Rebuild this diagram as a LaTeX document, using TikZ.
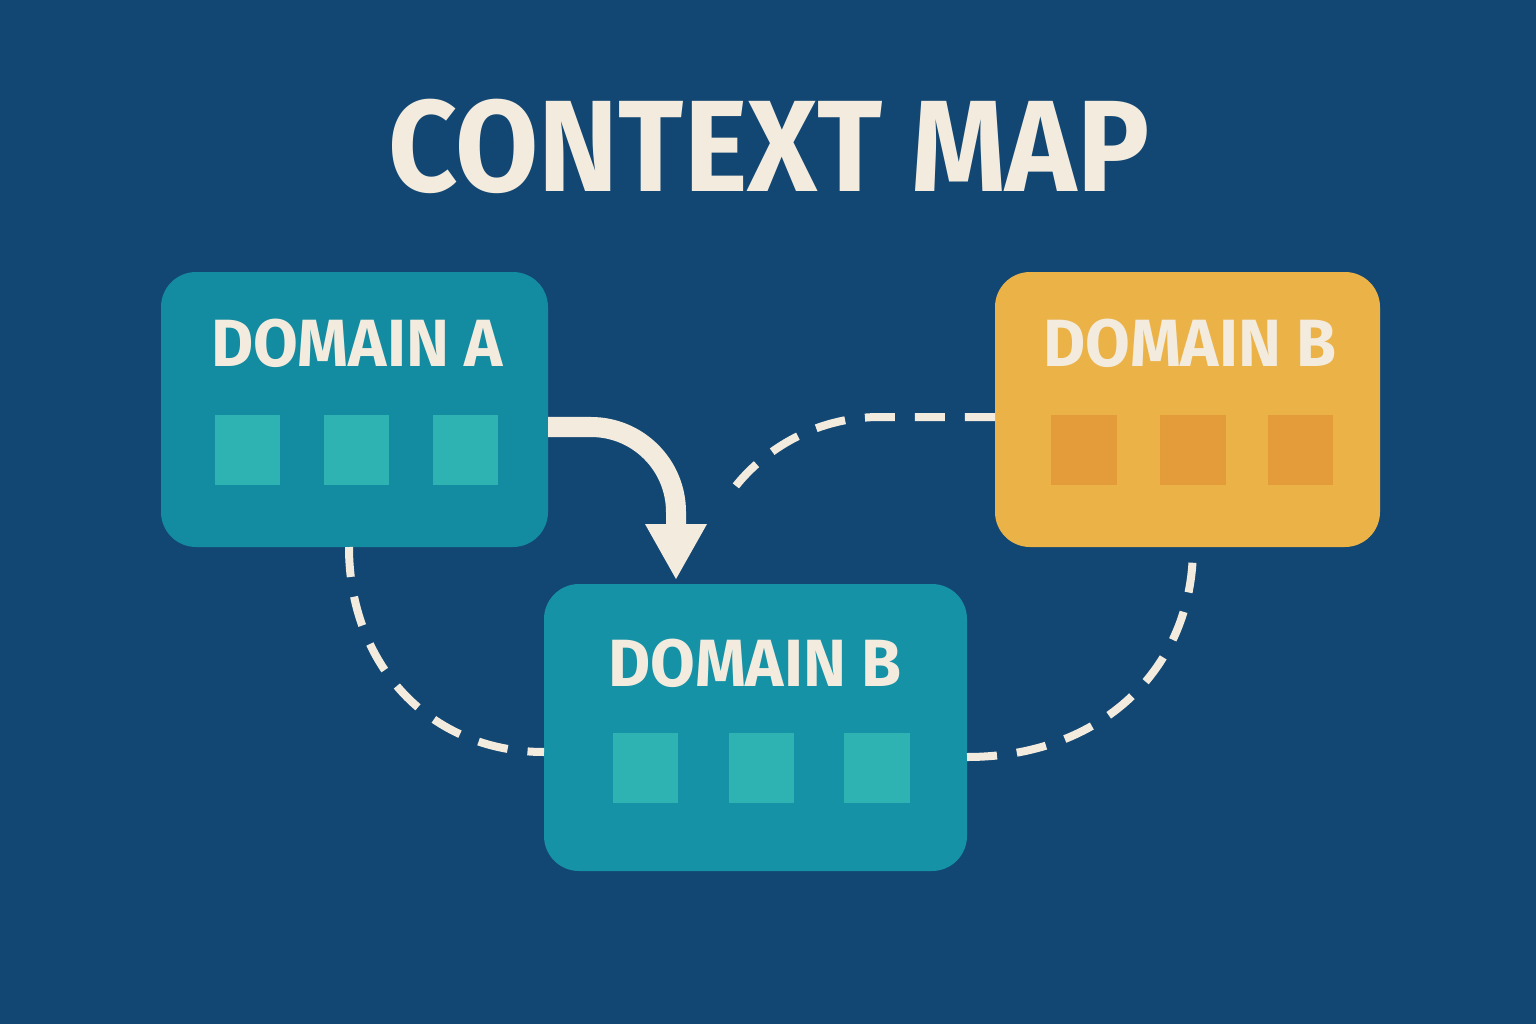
\documentclass[tikz,border=0pt]{standalone}
\usepackage{fontspec}
\setmainfont{Fira Sans}
\usetikzlibrary{arrows.meta}
\definecolor{bgblue}{RGB}{19,71,115}
\definecolor{tealbox}{RGB}{19,139,160}
\definecolor{tealbox2}{RGB}{22,146,166}
\definecolor{tealsq}{RGB}{47,178,178}
\definecolor{yelbox}{RGB}{235,178,72}
\definecolor{yelsq}{RGB}{228,155,58}
\definecolor{cream}{RGB}{243,236,222}
\tikzset{
  domainbox/.style={rounded corners=0.35cm, draw=none},
  sq/.style={inner sep=0pt, minimum width=0.65cm, minimum height=0.70cm, draw=none},
  dname/.style={text=cream, font=\fontsize{19}{22}\selectfont\bfseries, inner sep=0pt, xscale=0.97},
  dashlink/.style={draw=cream, line width=0.08cm, dash pattern=on 0.3cm off 0.2cm},
}
\begin{document}
\begin{tikzpicture}[x=0.01cm,y=-0.01cm]
\fill[bgblue] (0,0) rectangle (1536,1024);
\useasboundingbox (0,0) rectangle (1536,1024);

% title
\node[text=cream, font=\fontsize{37}{40}\selectfont\bfseries, inner sep=0pt, xscale=0.927] (title) at (769,146) {CONTEXT MAP};

% boxes
\fill[tealbox, domainbox] (161,272) rectangle (548,547);
\node[inner sep=0pt, minimum width=3.87cm, minimum height=2.75cm] (A) at (354.5,409.5) {};
\fill[yelbox, domainbox] (995,272) rectangle (1380,547);
\node[inner sep=0pt, minimum width=3.85cm, minimum height=2.75cm] (BR) at (1187.5,409.5) {};
\fill[tealbox2, domainbox] (544,584) rectangle (967,871);
\node[inner sep=0pt, minimum width=4.23cm, minimum height=2.87cm] (BB) at (755.5,727.5) {};

% labels
\node[dname] (lA) at (357,343) {DOMAIN A};
\node[dname] (lBR) at (1190,343) {DOMAIN B};
\node[dname] (lBB) at (755,663) {DOMAIN B};

% squares
\foreach \x [count=\i] in {247.5,356.5,465.5} \node[sq, fill=tealsq] (a\i) at (\x,450) {};
\foreach \x [count=\i] in {1084,1193,1300.5} \node[sq, fill=yelsq] (b\i) at (\x,450) {};
\foreach \x [count=\i] in {645.5,761.5,877} \node[sq, fill=tealsq] (c\i) at (\x,768) {};

% connector end points
\coordinate (aR) at (548,427);
\coordinate (aB) at (349,547);
\coordinate (bbL) at (544,752);
\coordinate (bbR) at (967,757);
\coordinate (brB) at (1193,547);
\coordinate (brL) at (995,417);
\coordinate (dashend) at (735,487);
\coordinate (arrowtip) at (676,579);

% solid arrow
\draw[cream, line width=0.2cm] (aR) -- (591,427) arc[start angle=270, end angle=360, radius=85] -- (676,526);
\fill[cream] (645,524) -- (707,524) -- (arrowtip) -- cycle;

% dashed links
\draw[dashlink] (aB) .. controls (349,665) and (430,752) .. (bbL);
\draw[dashlink] (bbR) .. controls (1100,757) and (1193,670) .. (brB);
\draw[dashlink] (brL) -- (880,417) .. controls (810,417) and (760,455) .. (dashend);
\end{tikzpicture}
\end{document}
